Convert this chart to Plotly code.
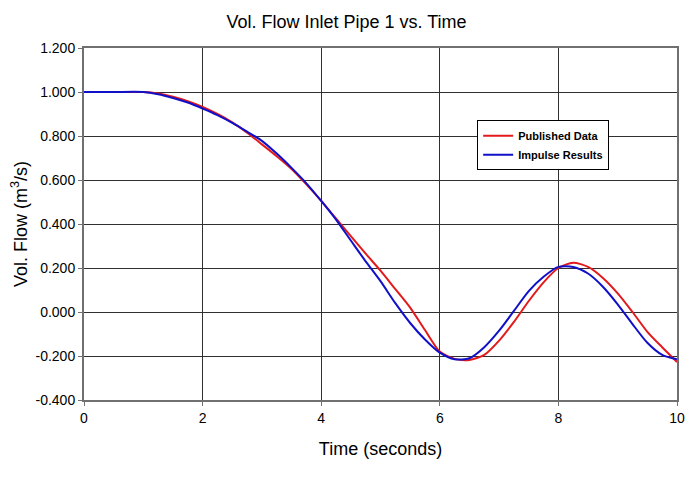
import plotly.graph_objects as go

time = [0, 0.5, 1.0, 1.25, 1.5, 1.75, 2.0, 2.25, 2.5, 2.75, 3.0, 3.25, 3.5, 3.75, 4.0,
        4.25, 4.5, 4.75, 5.0, 5.25, 5.5, 5.75, 6.0, 6.25, 6.5, 6.75, 7.0, 7.25, 7.5,
        7.75, 8.0, 8.25, 8.5, 8.75, 9.0, 9.25, 9.5, 9.75, 10.0]

published = [1.0, 1.0, 1.0, 0.993, 0.978, 0.958, 0.932, 0.900, 0.862, 0.815, 0.762,
             0.708, 0.650, 0.580, 0.505, 0.425, 0.345, 0.265, 0.188, 0.104, 0.020,
             -0.082, -0.180, -0.213, -0.218, -0.195, -0.130, -0.045, 0.050, 0.135,
             0.200, 0.224, 0.205, 0.155, 0.085, 0.000, -0.090, -0.160, -0.227]

impulse = [1.0, 1.0, 1.0, 0.990, 0.973, 0.952, 0.925, 0.895, 0.860, 0.820, 0.778,
           0.720, 0.655, 0.585, 0.505, 0.420, 0.325, 0.230, 0.140, 0.040, -0.050,
           -0.125, -0.185, -0.215, -0.210, -0.160, -0.085, 0.005, 0.095, 0.160,
           0.205, 0.205, 0.175, 0.115, 0.035, -0.055, -0.140, -0.195, -0.215]

y_ticks = [-0.4, -0.2, 0.0, 0.2, 0.4, 0.6, 0.8, 1.0, 1.2]
y_tick_labels = ["-0.400", "-0.200", "0.000", "0.200", "0.400", "0.600", "0.800",
                 "1.000", "1.200"]
x_ticks = [0, 2, 4, 6, 8, 10]

fig = go.Figure()
fig.add_trace(go.Scatter(x=time, y=published, mode="lines", name="Published Data",
                         line=dict(color="#e31a1c", width=2, shape="spline", smoothing=0.7)))
fig.add_trace(go.Scatter(x=time, y=impulse, mode="lines", name="Impulse Results",
                         line=dict(color="#1010c8", width=2, shape="spline", smoothing=0.7)))

fig.update_layout(
    width=700, height=480,
    margin=dict(l=76, r=31, t=40, b=88),
    paper_bgcolor="white", plot_bgcolor="white",
    font=dict(family="Arial, Liberation Sans, sans-serif", color="black", size=14),
    title=dict(text="Vol. Flow Inlet Pipe 1 vs. Time", x=0.4836, xanchor="center",
               y=0.971, yanchor="middle", font=dict(size=18)),
    xaxis=dict(range=[0, 10], tickvals=x_ticks, showgrid=True, gridcolor="#303030",
               gridwidth=1, showline=True, linecolor="#707070", linewidth=2, mirror=True,
               ticks="outside", ticklen=4, tickcolor="#707070", zeroline=False,
               tickfont=dict(size=14), automargin=False,
               title=dict(text="Time (seconds)", font=dict(size=18), standoff=18)),
    yaxis=dict(range=[-0.4, 1.2], tickvals=y_ticks, ticktext=y_tick_labels, showgrid=True,
               gridcolor="#303030", gridwidth=1, showline=True, linecolor="#707070",
               linewidth=2, mirror=True, ticks="outside", ticklen=4, tickcolor="#707070",
               zeroline=False, tickfont=dict(size=14), automargin=False,
               title=dict(text="Vol. Flow (m<sup>3</sup>/s)", font=dict(size=18), standoff=6)),
    legend=dict(x=0.663, y=0.795, xanchor="left", yanchor="top",
                bgcolor="white", bordercolor="black", borderwidth=1,
                font=dict(size=11, family="Arial, Liberation Sans, sans-serif", weight="bold"),
                tracegroupgap=0, itemwidth=30),
    showlegend=True,
)

fig.write_html("out.html")
